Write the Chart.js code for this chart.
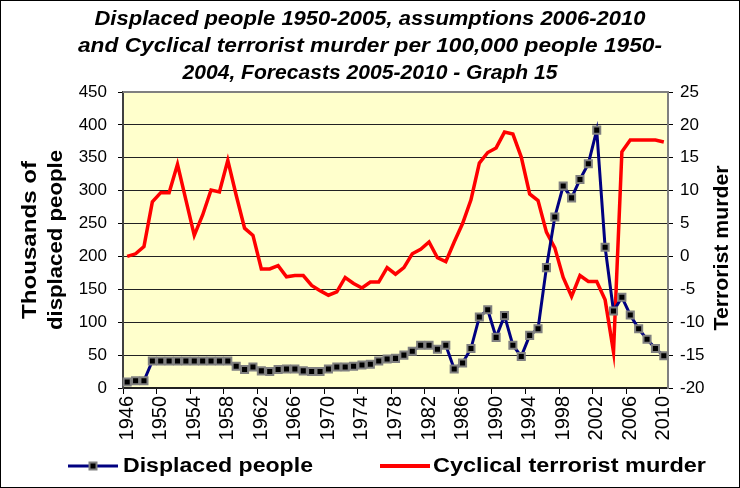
<!DOCTYPE html>
<html>
<head>
<meta charset="utf-8">
<script src="https://cdn.jsdelivr.net/npm/chart.js@4.4.1/dist/chart.umd.min.js"></script>
<style>
body { margin: 0; background: #fff; }
</style>
</head>
<body>
<canvas id="myChart" width="740" height="488"></canvas>
<script>
let years = ['1946', '1947', '1948', '1949', '1950', '1951', '1952', '1953', '1954', '1955',
    '1956', '1957', '1958', '1959', '1960', '1961', '1962', '1963', '1964', '1965',
    '1966', '1967', '1968', '1969', '1970', '1971', '1972', '1973', '1974', '1975',
    '1976', '1977', '1978', '1979', '1980', '1981', '1982', '1983', '1984', '1985',
    '1986', '1987', '1988', '1989', '1990', '1991', '1992', '1993', '1994', '1995',
    '1996', '1997', '1998', '1999', '2000', '2001', '2002', '2003', '2004', '2005',
    '2006', '2007', '2008', '2009', '2010']

// thousands of displaced people (left axis)
let displaced = [9, 11, 11, 41, 41, 41, 41, 41, 41, 41,
    41, 41, 41, 33, 28, 32, 26, 25, 28, 29,
    29, 26, 25, 25, 29, 32, 32, 33, 35, 36,
    41, 44, 45, 50, 56, 65, 65, 59, 65, 29,
    38, 60, 108, 119, 77, 110, 65, 48, 80, 90,
    183, 260, 307, 289, 317, 341, 392, 214, 117, 138,
    111, 90, 74, 60, 49]

// cyclical terrorist murder per 100,000 (right axis)
let murder = [0.0, 0.4, 1.5, 8.3, 9.7, 9.7, 14.0, 8.6, 3.2, 6.3,
    10.1, 9.8, 14.6, 9.3, 4.3, 3.2, -1.9, -1.9, -1.4, -3.1,
    -2.9, -2.9, -4.4, -5.2, -5.9, -5.4, -3.2, -4.1, -4.8, -3.9,
    -3.9, -1.7, -2.7, -1.7, 0.4, 1.1, 2.2, -0.2, -0.8, 2.2,
    5.0, 8.6, 14.2, 15.8, 16.5, 18.9, 18.6, 15.1, 9.5, 8.5,
    3.7, 1.3, -3.2, -6.1, -2.9, -3.8, -3.8, -6.6, -14.5, 15.9,
    17.7, 17.7, 17.7, 17.7, 17.4]

let x_tick_labels = ['1946', '1950', '1954', '1958', '1962', '1966', '1970', '1974',
    '1978', '1982', '1986', '1990', '1994', '1998', '2002', '2006', '2010']

let left_min = 0, left_max = 450, left_step = 50
let right_min = -20, right_max = 25, right_step = 5

let title_lines = ['Displaced people 1950-2005, assumptions 2006-2010',
    'and Cyclical terrorist murder per 100,000 people 1950-',
    '2004, Forecasts 2005-2010 - Graph 15']
let left_title = ['Thousands of', 'displaced people']
let right_title = 'Terrorist murder'
let series_names = ['Displaced people', 'Cyclical terrorist murder']

const FONT = '"Liberation Sans", Arial, sans-serif'

// draw text squeezed/stretched to a given width
function fitText(ctx, text, x, y, w, rot) {
    ctx.save()
    ctx.translate(x, y)
    if (rot) ctx.rotate(rot)
    let m = ctx.measureText(text).width
    ctx.scale(w / m, 1)
    ctx.textAlign = 'center'
    ctx.textBaseline = 'middle'
    ctx.fillText(text, 0, 0)
    ctx.restore()
}

const decor = {
    id: 'decor',
    beforeDraw(chart) {
        let ctx = chart.ctx
        let a = chart.chartArea
        ctx.save()
        ctx.fillStyle = '#fff'
        ctx.fillRect(0, 0, chart.width, chart.height)
        ctx.fillStyle = '#FFFFCC'
        ctx.fillRect(a.left, a.top, a.right - a.left, a.bottom - a.top)
        ctx.restore()
    },
    beforeDatasetsDraw(chart) {
        let ctx = chart.ctx
        let a = chart.chartArea
        ctx.save()
        ctx.strokeStyle = '#808080'
        ctx.lineWidth = 2
        ctx.beginPath()
        ctx.moveTo(a.left, a.top)
        ctx.lineTo(a.right, a.top)
        ctx.stroke()
        ctx.restore()
    },
    afterDraw(chart) {
        let ctx = chart.ctx
        ctx.save()
        ctx.fillStyle = '#000'

        // title
        ctx.font = 'italic bold 20px ' + FONT
        fitText(ctx, title_lines[0], 370, 19, 551)
        fitText(ctx, title_lines[1], 370, 46, 584)
        fitText(ctx, title_lines[2], 370, 73, 375)

        // axis titles
        ctx.font = 'bold 20px ' + FONT
        fitText(ctx, left_title[0], 30, 240, 158, -Math.PI / 2)
        fitText(ctx, left_title[1], 56, 240, 180, -Math.PI / 2)
        fitText(ctx, right_title, 722, 248, 165, -Math.PI / 2)

        // legend
        let ly = 466
        ctx.lineWidth = 3
        ctx.strokeStyle = '#000080'
        ctx.beginPath()
        ctx.moveTo(68, ly)
        ctx.lineTo(118, ly)
        ctx.stroke()
        ctx.fillStyle = '#000'
        ctx.strokeStyle = '#808080'
        ctx.lineWidth = 2
        ctx.fillRect(89.5, ly - 3.5, 7, 7)
        ctx.strokeRect(89.5, ly - 3.5, 7, 7)
        ctx.strokeStyle = '#FF0000'
        ctx.lineWidth = 4
        ctx.beginPath()
        ctx.moveTo(380, ly)
        ctx.lineTo(430, ly)
        ctx.stroke()
        ctx.font = 'bold 20px ' + FONT
        fitText(ctx, series_names[0], 218, ly, 190)
        fitText(ctx, series_names[1], 569.5, ly, 273)

        // outer frame
        ctx.strokeStyle = '#000'
        ctx.lineWidth = 1
        ctx.strokeRect(0.5, 0.5, chart.width - 1, chart.height - 1)
        ctx.restore()
    }
}

let ctx = document.getElementById('myChart').getContext('2d')

let myChart = new Chart(ctx, {
    type: 'line',
    data: {
        labels: years,
        datasets: [{
            label: series_names[0],
            data: displaced,
            yAxisID: 'y',
            borderColor: '#000080',
            borderWidth: 3,
            pointStyle: 'rect',
            pointRadius: 5,
            pointBackgroundColor: '#000',
            pointBorderColor: '#808080',
            pointBorderWidth: 2,
            tension: 0
        }, {
            label: series_names[1],
            data: murder,
            yAxisID: 'y1',
            borderColor: '#FF0000',
            borderWidth: 3.5,
            pointRadius: 0,
            tension: 0
        }]
    },
    options: {
        responsive: false,
        animation: false,
        devicePixelRatio: 1,
        layout: { padding: { top: 92, left: 0, right: 0, bottom: 0 } },
        plugins: {
            legend: { display: false },
            title: { display: false },
            tooltip: { enabled: false }
        },
        scales: {
            x: {
                type: 'category',
                offset: true,
                grid: {
                    offset: true,
                    drawOnChartArea: false,
                    drawTicks: true,
                    tickLength: 6,
                    tickColor: c => (c.index !== undefined && c.index % 4 === 0) ? '#000' : 'rgba(0,0,0,0)'
                },
                border: { color: '#202020', width: 1.5 },
                ticks: {
                    autoSkip: false,
                    minRotation: 90,
                    maxRotation: 90,
                    padding: 2,
                    color: '#000',
                    font: { family: FONT, size: 20 },
                    callback: function (v, i) {
                        return x_tick_labels.includes(years[i]) ? years[i] : ''
                    }
                },
                afterFit(scale) { scale.height = 100 }
            },
            y: {
                position: 'left',
                min: left_min,
                max: left_max,
                grid: { color: '#222', lineWidth: 1, tickLength: 5, tickColor: '#000' },
                border: { color: '#404040', width: 2 },
                ticks: {
                    stepSize: left_step,
                    padding: 11,
                    color: '#000',
                    font: { family: FONT, size: 17 }
                },
                afterFit(scale) { scale.width = 123 }
            },
            y1: {
                position: 'right',
                min: right_min,
                max: right_max,
                grid: { drawOnChartArea: false, tickLength: 5, tickColor: '#000' },
                border: { color: '#808080', width: 2 },
                ticks: {
                    stepSize: right_step,
                    padding: 7,
                    color: '#000',
                    font: { family: FONT, size: 17 }
                },
                afterFit(scale) { scale.width = 72 }
            }
        }
    },
    plugins: [decor]
});
</script>
</body>
</html>
